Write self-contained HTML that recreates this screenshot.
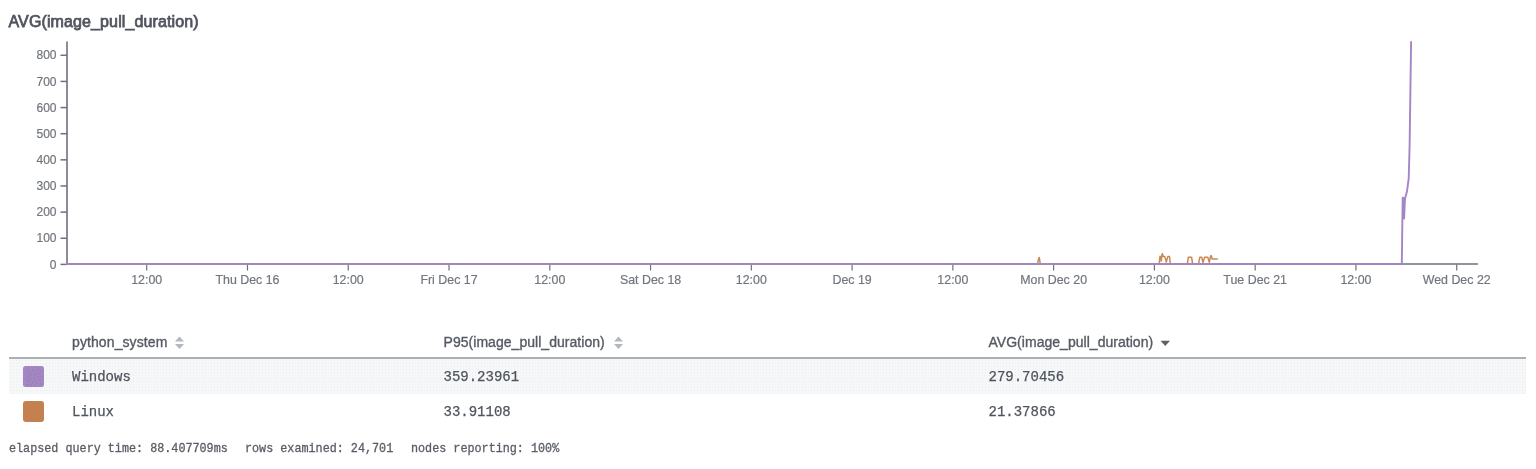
<!DOCTYPE html>
<html><head><meta charset="utf-8"><style>
html,body{margin:0;padding:0;background:#fff;width:1536px;height:469px;overflow:hidden}
body{position:relative;font-family:"Liberation Sans",sans-serif}
#wrap{position:absolute;left:0;top:0;width:1536px;height:469px;will-change:transform}
.abs{position:absolute;white-space:pre}
.title{left:8.5px;top:10px;font-size:16px;line-height:24px;color:#50555e;font-weight:400;letter-spacing:0.12px;-webkit-text-stroke:0.75px #50555e}
svg{position:absolute;left:0;top:0}
.yl{font-size:12px!important}
.yl,.xl{font-family:"Liberation Sans",sans-serif;font-size:12.4px;fill:#71767e;stroke:#71767e;stroke-width:0.2px}
.hd{font-size:14px;line-height:20px;color:#555a63;letter-spacing:0.1px;-webkit-text-stroke:0.35px #555a63}
.mono{font-family:"Liberation Mono",monospace;font-size:14px;line-height:20px;color:#4f545c;-webkit-text-stroke:0.25px #4f545c}
.row1{left:8.5px;top:359px;width:1517.5px;height:34.6px;background-color:#f6f7f9;background-image:radial-gradient(circle at 1.5px 1.5px,#ebedf0 0.5px,transparent 1px);background-size:3px 3px}
.hline{left:8.5px;top:357px;width:1517.5px;height:2px;background:#abafb6}
.sw{left:23px;width:21px;height:21px;border-radius:3px}
.foot{font-family:"Liberation Mono",monospace;font-size:12.8px;line-height:16px;color:#585d65;top:440.8px;transform:scaleX(0.919);transform-origin:0 0;-webkit-text-stroke:0.3px #585d65}
</style></head><body><div id="wrap">
<div class="abs title">AVG(image_pull_duration)</div>
<svg width="1536" height="300" viewBox="0 0 1536 300">
<line x1="66" y1="264" x2="1478" y2="264" stroke="#6d727b" stroke-width="1.6"/>
<line x1="67" y1="41.5" x2="67" y2="264.8" stroke="#6d727b" stroke-width="1.6"/>
<line x1="60.5" y1="264.40" x2="67" y2="264.40" stroke="#6d727b" stroke-width="1.5"/>
<text x="56.5" y="268.50" text-anchor="end" class="yl">0</text>
<line x1="60.5" y1="238.26" x2="67" y2="238.26" stroke="#6d727b" stroke-width="1.5"/>
<text x="56.5" y="242.36" text-anchor="end" class="yl">100</text>
<line x1="60.5" y1="212.12" x2="67" y2="212.12" stroke="#6d727b" stroke-width="1.5"/>
<text x="56.5" y="216.22" text-anchor="end" class="yl">200</text>
<line x1="60.5" y1="185.98" x2="67" y2="185.98" stroke="#6d727b" stroke-width="1.5"/>
<text x="56.5" y="190.08" text-anchor="end" class="yl">300</text>
<line x1="60.5" y1="159.84" x2="67" y2="159.84" stroke="#6d727b" stroke-width="1.5"/>
<text x="56.5" y="163.94" text-anchor="end" class="yl">400</text>
<line x1="60.5" y1="133.70" x2="67" y2="133.70" stroke="#6d727b" stroke-width="1.5"/>
<text x="56.5" y="137.80" text-anchor="end" class="yl">500</text>
<line x1="60.5" y1="107.56" x2="67" y2="107.56" stroke="#6d727b" stroke-width="1.5"/>
<text x="56.5" y="111.66" text-anchor="end" class="yl">600</text>
<line x1="60.5" y1="81.42" x2="67" y2="81.42" stroke="#6d727b" stroke-width="1.5"/>
<text x="56.5" y="85.52" text-anchor="end" class="yl">700</text>
<line x1="60.5" y1="55.28" x2="67" y2="55.28" stroke="#6d727b" stroke-width="1.5"/>
<text x="56.5" y="59.38" text-anchor="end" class="yl">800</text>
<line x1="146.70" y1="264.5" x2="146.70" y2="270.5" stroke="#6d727b" stroke-width="1.2"/>
<text x="146.70" y="283.6" text-anchor="middle" class="xl">12:00</text>
<line x1="247.47" y1="264.5" x2="247.47" y2="270.5" stroke="#6d727b" stroke-width="1.2"/>
<text x="247.47" y="283.6" text-anchor="middle" class="xl">Thu Dec 16</text>
<line x1="348.24" y1="264.5" x2="348.24" y2="270.5" stroke="#6d727b" stroke-width="1.2"/>
<text x="348.24" y="283.6" text-anchor="middle" class="xl">12:00</text>
<line x1="449.01" y1="264.5" x2="449.01" y2="270.5" stroke="#6d727b" stroke-width="1.2"/>
<text x="449.01" y="283.6" text-anchor="middle" class="xl">Fri Dec 17</text>
<line x1="549.78" y1="264.5" x2="549.78" y2="270.5" stroke="#6d727b" stroke-width="1.2"/>
<text x="549.78" y="283.6" text-anchor="middle" class="xl">12:00</text>
<line x1="650.55" y1="264.5" x2="650.55" y2="270.5" stroke="#6d727b" stroke-width="1.2"/>
<text x="650.55" y="283.6" text-anchor="middle" class="xl">Sat Dec 18</text>
<line x1="751.32" y1="264.5" x2="751.32" y2="270.5" stroke="#6d727b" stroke-width="1.2"/>
<text x="751.32" y="283.6" text-anchor="middle" class="xl">12:00</text>
<line x1="852.09" y1="264.5" x2="852.09" y2="270.5" stroke="#6d727b" stroke-width="1.2"/>
<text x="852.09" y="283.6" text-anchor="middle" class="xl">Dec 19</text>
<line x1="952.86" y1="264.5" x2="952.86" y2="270.5" stroke="#6d727b" stroke-width="1.2"/>
<text x="952.86" y="283.6" text-anchor="middle" class="xl">12:00</text>
<line x1="1053.63" y1="264.5" x2="1053.63" y2="270.5" stroke="#6d727b" stroke-width="1.2"/>
<text x="1053.63" y="283.6" text-anchor="middle" class="xl">Mon Dec 20</text>
<line x1="1154.40" y1="264.5" x2="1154.40" y2="270.5" stroke="#6d727b" stroke-width="1.2"/>
<text x="1154.40" y="283.6" text-anchor="middle" class="xl">12:00</text>
<line x1="1255.17" y1="264.5" x2="1255.17" y2="270.5" stroke="#6d727b" stroke-width="1.2"/>
<text x="1255.17" y="283.6" text-anchor="middle" class="xl">Tue Dec 21</text>
<line x1="1355.94" y1="264.5" x2="1355.94" y2="270.5" stroke="#6d727b" stroke-width="1.2"/>
<text x="1355.94" y="283.6" text-anchor="middle" class="xl">12:00</text>
<line x1="1456.71" y1="264.5" x2="1456.71" y2="270.5" stroke="#6d727b" stroke-width="1.2"/>
<text x="1456.71" y="283.6" text-anchor="middle" class="xl">Wed Dec 22</text>
<polyline points="66,263.9 1037.7,263.9 1038.7,258.2 1039.3,257.6 1040.3,263.9 1159.2,263.9 1160.0,256.3 1160.8,257 1161.3,261 1161.8,255 1162.5,253.6 1163.0,256.6 1164.8,256.6 1166.3,262.0 1167.8,256.6 1169.5,256.6 1170.3,263.9 1187.3,263.9 1188.4,257.2 1191.6,257.2 1192.6,263.9 1198.5,263.9 1199.8,257.3 1201.8,257.3 1203.0,262.5 1204.6,257.3 1206.5,257.3 1207.8,257.3 1209.3,262.3 1210.5,256.5 1211.2,255.5 1212.2,259.0 1217.8,259.0" fill="none" stroke="#c98a52" stroke-width="1.5" stroke-linejoin="round"/>
<polyline points="66,263.9 1401.8,263.9 1402.7,197.6 1403.3,197.6 1404.1,218.5 1405.0,198.8 1407.0,191.3 1408.7,178.5 1409.6,146 1411.1,41.2" fill="none" stroke="#a485c6" stroke-width="1.9" stroke-linejoin="round"/>
</svg>
<div class="abs hd" style="left:72px;top:332px">python_system</div>
<svg style="left:174px;top:336px" width="11" height="14" viewBox="0 0 11 14"><path d="M5.5 0.5 L10 5.5 L1 5.5 Z M1 8 L10 8 L5.5 13 Z" fill="#b3b7be"/></svg>
<div class="abs hd" style="left:443.5px;top:332px;letter-spacing:0.04px">P95(image_pull_duration)</div>
<svg style="left:613px;top:336px" width="11" height="14" viewBox="0 0 11 14"><path d="M5.5 0.5 L10 5.5 L1 5.5 Z M1 8 L10 8 L5.5 13 Z" fill="#b3b7be"/></svg>
<div class="abs hd" style="left:988.5px;top:332px;letter-spacing:0.03px">AVG(image_pull_duration)</div>
<svg style="left:1159.5px;top:340px" width="11" height="7" viewBox="0 0 11 7"><path d="M0.5 0.8 L10 0.8 L5.25 6 Z" fill="#5c6169"/></svg>
<div class="abs hline"></div>
<div class="abs row1"></div>
<svg style="left:23px;top:366px" width="21" height="21" viewBox="0 0 21 21"><rect x="0" y="0" width="21" height="21" rx="2.5" fill="#a485c6"/><rect x="4.48" y="3.33" width="1" height="1" fill="#7c7f86"/><rect x="9.38" y="3.33" width="1" height="1" fill="#7c7f86"/><rect x="14.56" y="3.33" width="1" height="1" fill="#7c7f86"/><rect x="17.44" y="4.48" width="1" height="1" fill="#7c7f86"/><rect x="6.50" y="5.52" width="1" height="1" fill="#7c7f86"/><rect x="11.39" y="5.52" width="1" height="1" fill="#7c7f86"/><rect x="3.62" y="7.48" width="1" height="1" fill="#7c7f86"/><rect x="15.42" y="7.48" width="1" height="1" fill="#7c7f86"/><rect x="7.36" y="8.40" width="1" height="1" fill="#7c7f86"/><rect x="11.39" y="8.40" width="1" height="1" fill="#7c7f86"/><rect x="4.48" y="10.53" width="1" height="1" fill="#7c7f86"/><rect x="14.56" y="10.53" width="1" height="1" fill="#7c7f86"/><rect x="18.59" y="10.53" width="1" height="1" fill="#7c7f86"/><rect x="10.53" y="11.39" width="1" height="1" fill="#7c7f86"/><rect x="7.36" y="12.43" width="1" height="1" fill="#7c7f86"/><rect x="3.62" y="13.41" width="1" height="1" fill="#7c7f86"/><rect x="12.54" y="13.41" width="1" height="1" fill="#7c7f86"/><rect x="16.57" y="13.41" width="1" height="1" fill="#7c7f86"/><rect x="5.35" y="15.42" width="1" height="1" fill="#7c7f86"/><rect x="9.38" y="15.42" width="1" height="1" fill="#7c7f86"/><rect x="13.41" y="16.46" width="1" height="1" fill="#7c7f86"/><rect x="17.44" y="17.44" width="1" height="1" fill="#7c7f86"/><rect x="3.62" y="18.42" width="1" height="1" fill="#7c7f86"/><rect x="7.36" y="18.42" width="1" height="1" fill="#7c7f86"/><rect x="11.39" y="18.42" width="1" height="1" fill="#7c7f86"/></svg>
<div class="abs sw" style="top:401px;background:#c4804f"></div>
<div class="abs mono" style="left:72px;top:367px">Windows</div>
<div class="abs mono" style="left:443.5px;top:367px">359.23961</div>
<div class="abs mono" style="left:988.5px;top:367px">279.70456</div>
<div class="abs mono" style="left:72px;top:402px">Linux</div>
<div class="abs mono" style="left:443.5px;top:402px">33.91108</div>
<div class="abs mono" style="left:988.5px;top:402px">21.37866</div>
<div class="abs foot" style="left:8.8px">elapsed query time: 88.407709ms</div>
<div class="abs foot" style="left:245px">rows examined: 24,701</div>
<div class="abs foot" style="left:411.2px">nodes reporting: 100%</div>
</div></body></html>
